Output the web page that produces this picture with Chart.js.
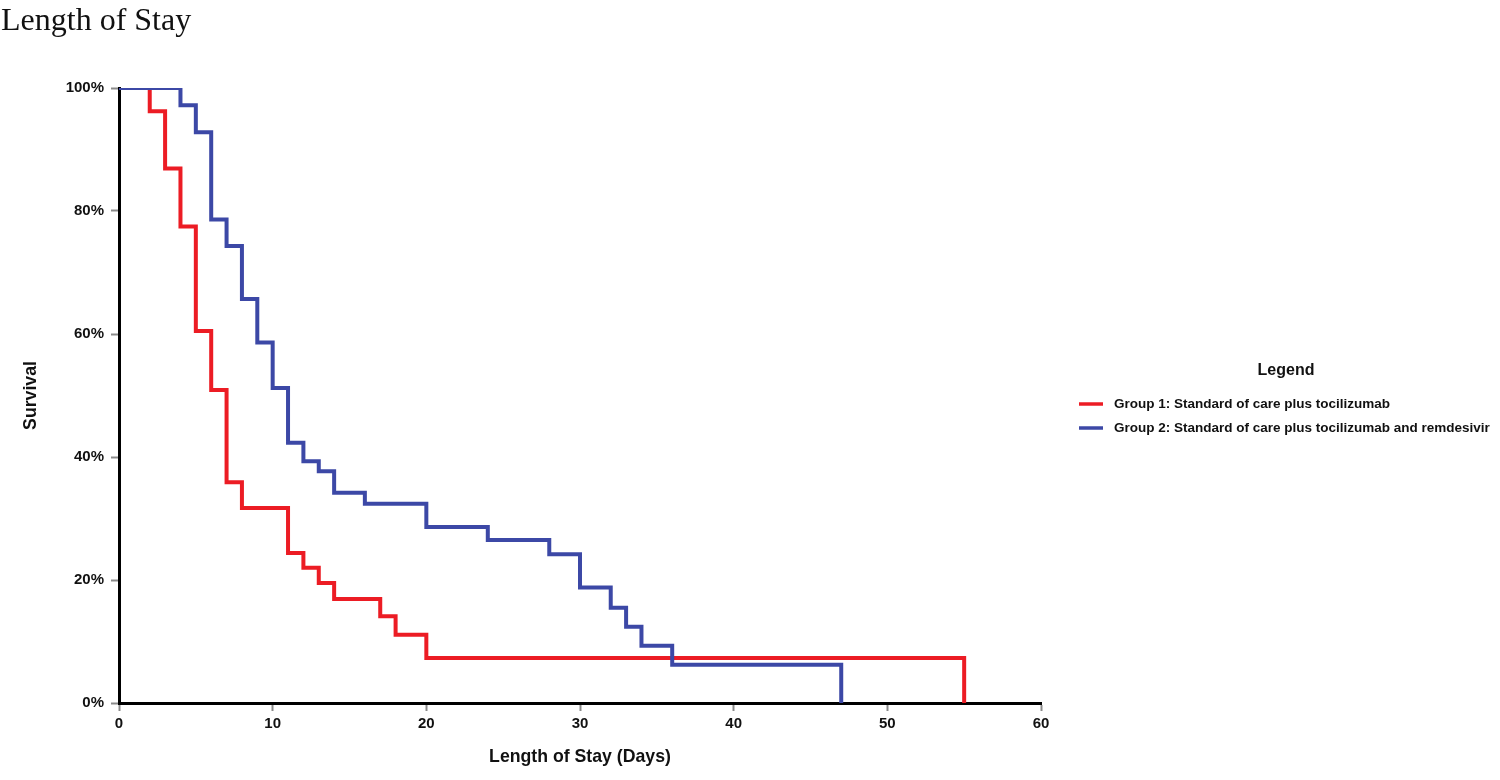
<!DOCTYPE html>
<html>
<head>
<meta charset="utf-8">
<script src="https://cdn.jsdelivr.net/npm/chart.js@4.4.1/dist/chart.umd.min.js"></script>
<style>
  html, body { margin: 0; padding: 0; background: #fff; }
  #wrap { position: relative; width: 1500px; height: 780px; }
  #title { position: absolute; left: 1px; top: 3px; font-family: "Liberation Serif", "Times New Roman", serif; font-size: 32px; line-height: 32px; color: #111; white-space: nowrap; }
  canvas { position: absolute; left: 0; top: 0; }
</style>
</head>
<body>
<div id="wrap">
  <canvas id="c" width="1500" height="780"></canvas>
  <div id="title">Length of Stay</div>
</div>
<script>
// ---- data ----
const groupNames = [
  "Group 1: Standard of care plus tocilizumab",
  "Group 2: Standard of care plus tocilizumab and remdesivir"
];
const g1Days     = [0, 2, 3, 4, 5, 6, 7, 8, 11, 12, 13, 14, 17, 18, 20, 55];
const g1Survival = [100, 96.2, 86.9, 77.5, 60.5, 50.9, 35.9, 31.7, 24.4, 22.0, 19.5, 16.9, 14.1, 11.1, 7.3, 0];
const g2Days     = [0, 4, 5, 6, 7, 8, 9, 10, 11, 12, 13, 14, 16, 20, 24, 28, 30, 32, 33, 34, 36, 47];
const g2Survival = [100, 97.2, 92.8, 78.6, 74.3, 65.7, 58.6, 51.2, 42.3, 39.3, 37.7, 34.2, 32.4, 28.6, 26.5, 24.2, 18.8, 15.5, 12.4, 9.3, 6.2, 0];
const xTickValues = [0, 10, 20, 30, 40, 50, 60];
const yTickValues = [0, 20, 40, 60, 80, 100];
const xAxisTitle = "Length of Stay (Days)";
const yAxisTitle = "Survival";
const legendTitle = "Legend";
const seriesColors = ["#ec1c24", "#3c48a6"];

const toPoints = (xs, ys) => xs.map((x, i) => ({ x: x, y: ys[i] }));

const legendPlugin = {
  id: 'customLegend',
  afterDraw(chart) {
    const ctx = chart.ctx;
    ctx.save();
    ctx.fillStyle = '#111';
    ctx.textBaseline = 'middle';
    ctx.font = 'bold 16px "Liberation Sans", Arial, sans-serif';
    ctx.textAlign = 'center';
    ctx.fillText(legendTitle, 1286, 371);
    ctx.font = 'bold 13.5px "Liberation Sans", Arial, sans-serif';
    ctx.textAlign = 'left';
    chart.data.datasets.forEach((ds, i) => {
      const y = 404 + i * 24;
      ctx.strokeStyle = ds.borderColor;
      ctx.lineWidth = 3.5;
      ctx.beginPath();
      ctx.moveTo(1079, y);
      ctx.lineTo(1103, y);
      ctx.stroke();
      ctx.fillStyle = '#111';
      ctx.fillText(ds.label, 1114, y);
    });
    ctx.restore();
  }
};

const tickFont = { family: '"Liberation Sans", Arial, sans-serif', size: 15, weight: 'bold' };
const titleFont = { family: '"Liberation Sans", Arial, sans-serif', size: 17.7, weight: 'bold' };

new Chart(document.getElementById('c'), {
  type: 'line',
  data: {
    datasets: [
      { label: groupNames[0], data: toPoints(g1Days, g1Survival), borderColor: seriesColors[0], backgroundColor: seriesColors[0],
        borderWidth: 4, stepped: true, pointRadius: 0, fill: false, borderJoinStyle: 'miter', order: 2 },
      { label: groupNames[1], data: toPoints(g2Days, g2Survival), borderColor: seriesColors[1], backgroundColor: seriesColors[1],
        borderWidth: 4, stepped: true, pointRadius: 0, fill: false, borderJoinStyle: 'miter', order: 1 }
    ]
  },
  options: {
    responsive: false,
    animation: false,
    devicePixelRatio: 1,
    layout: { padding: { left: 0, top: 88, right: 459, bottom: 0 } },
    plugins: { legend: { display: false }, tooltip: { enabled: false }, title: { display: false } },
    scales: {
      x: {
        type: 'linear', min: 0, max: 60,
        afterBuildTicks: (s) => { s.ticks = xTickValues.map(v => ({ value: v })); },
        afterFit: (s) => { s.height = 77; },
        grid: { drawOnChartArea: false, drawTicks: true, tickLength: 8, tickColor: '#8a8a8a', tickWidth: 2 },
        border: { display: true, color: '#000', width: 3 },
        ticks: { font: tickFont, color: '#111', padding: 4, maxRotation: 0, autoSkip: false },
        title: { display: true, text: xAxisTitle, font: titleFont, color: '#111', padding: { top: 0, bottom: 12.5 } }
      },
      y: {
        type: 'linear', min: 0, max: 100,
        afterBuildTicks: (s) => { s.ticks = yTickValues.map(v => ({ value: v })); },
        afterFit: (s) => { s.width = 119; },
        grid: { drawOnChartArea: false, drawTicks: true, tickLength: 8, tickColor: '#8a8a8a', tickWidth: 2 },
        border: { display: true, color: '#000', width: 3 },
        ticks: { font: tickFont, color: '#111', padding: 7, callback: (v) => v + '%' },
        title: { display: true, text: yAxisTitle, font: titleFont, color: '#111', padding: { top: 20.5, bottom: 0 } }
      }
    }
  },
  plugins: [legendPlugin]
});
</script>
</body>
</html>
